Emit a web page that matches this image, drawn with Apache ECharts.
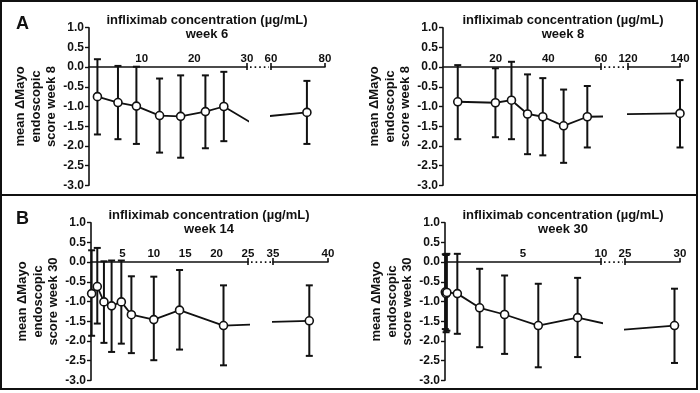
<!DOCTYPE html>
<html>
<head>
<meta charset="utf-8">
<script src="https://cdn.jsdelivr.net/npm/echarts@6/dist/echarts.min.js"></script>
<style>
html,body{margin:0;padding:0;background:#fff;}
#chart{width:700px;height:393px;}
</style>
</head>
<body>
<div id="chart"></div>
<script>
// ---- Data ----
const weekLabels = ['week 6', 'week 8', 'week 14', 'week 30'];
const yTitles = ['score week 8', 'score week 8', 'score week 30', 'score week 30'];
const panelLetters = ['A', '', 'B', ''];
const yTicks = [-3, 1, 0.5];

// axis segments [min, max, interval] before and after the break
const seg1 = [[0, 30, 10], [0, 60, 20], [0, 25, 5], [0, 10, 5]];
const seg2 = [[60, 80, 20], [120, 140, 20], [35, 40, 5], [25, 30, 5]];

// week 6
const w6X     = [1.6, 5.5, 9.0, 13.4, 17.4, 22.1, 25.6, 73.3];
const w6Mean  = [-0.75, -0.90, -0.99, -1.23, -1.25, -1.13, -1.00, -1.15];
const w6Upper = [0.20, 0.03, 0.01, -0.29, -0.21, -0.21, -0.12, -0.35];
const w6Lower = [-1.71, -1.83, -1.95, -2.17, -2.30, -2.06, -1.88, -1.95];
const w6Hidden = [31, -1.43];

// week 8
const w8X     = [5.6, 19.9, 26.0, 32.1, 37.9, 45.8, 54.8, 140];
const w8Mean  = [-0.88, -0.905, -0.84, -1.19, -1.26, -1.49, -1.26, -1.175];
const w8Upper = [0.05, -0.03, 0.135, -0.185, -0.28, -0.57, -0.48, -0.33];
const w8Lower = [-1.83, -1.78, -1.83, -2.21, -2.24, -2.43, -2.04, -2.04];
const w8Hidden = [90, -1.22];

// week 14
const w14X     = [0.1, 1.0, 2.06, 3.28, 4.83, 6.43, 10.0, 14.1, 21.1, 38.3];
const w14Mean  = [-0.80, -0.62, -1.01, -1.11, -1.01, -1.335, -1.46, -1.22, -1.61, -1.49];
const w14Upper = [0.30, 0.36, 0.02, 0.04, 0.04, -0.36, -0.37, -0.20, -0.59, -0.59];
const w14Lower = [-1.87, -1.56, -2.05, -2.28, -2.07, -2.31, -2.49, -2.22, -2.62, -2.38];
const w14Hidden = [30, -1.56];

// week 30
const w30X     = [0.02, 0.07, 0.12, 0.79, 2.22, 3.82, 5.98, 8.5, 29.5];
const w30Mean  = [-0.76, -0.80, -0.77, -0.80, -1.16, -1.33, -1.61, -1.41, -1.61];
const w30Upper = [0.20, 0.18, 0.21, 0.21, -0.17, -0.34, -0.55, -0.40, -0.675];
const w30Lower = [-1.70, -1.78, -1.74, -1.82, -2.16, -2.33, -2.67, -2.41, -2.56];
const w30Hidden = [14.6, -1.94];

const panelData = [
  {x: w6X, mean: w6Mean, upper: w6Upper, lower: w6Lower, hidden: w6Hidden},
  {x: w8X, mean: w8Mean, upper: w8Upper, lower: w8Lower, hidden: w8Hidden},
  {x: w14X, mean: w14Mean, upper: w14Upper, lower: w14Lower, hidden: w14Hidden},
  {x: w30X, mean: w30Mean, upper: w30Upper, lower: w30Lower, hidden: w30Hidden}
];

// ---- Layout (pixels) ----
const layout = [
  {top: 27.7, g1: [89, 247], g2: [271, 325], titleX: 207, titleY: 13},
  {top: 27.7, g1: [443, 601], g2: [628, 680], titleX: 563, titleY: 13},
  {top: 222.7, g1: [91, 248], g2: [273, 328], titleX: 209, titleY: 208},
  {top: 222.7, g1: [445, 601], g2: [625, 680], titleX: 563, titleY: 208}
];
const plotH = 157.6;
// distance from grid top to y = 0
const zeroOffset = plotH * (yTicks[1] - 0) / (yTicks[1] - yTicks[0]);
const FONT = '"Liberation Sans", Arial, sans-serif';
const INK = '#111';

const grids = [], xAxes = [], yAxes = [], series = [], titles = [];

function errRender(params, api) {
  const x = api.value(0), hi = api.value(1), lo = api.value(2);
  const t = api.coord([x, hi]), b = api.coord([x, lo]);
  const w = 3.5, st = {stroke: INK, lineWidth: 2};
  return {type: 'group', children: [
    {type: 'line', shape: {x1: t[0], y1: t[1], x2: b[0], y2: b[1]}, style: st},
    {type: 'line', shape: {x1: t[0] - w, y1: t[1], x2: t[0] + w, y2: t[1]}, style: st},
    {type: 'line', shape: {x1: b[0] - w, y1: b[1], x2: b[0] + w, y2: b[1]}, style: st}
  ]};
}

layout.forEach((L, p) => {
  const d = panelData[p];
  const segs = [seg1[p], seg2[p]];
  const gx = [L.g1, L.g2];
  const pts = d.x.map((x, i) => [x, d.mean[i]]);
  pts.push(d.hidden);
  pts.sort((a, b) => a[0] - b[0]);

  segs.forEach((s, k) => {
    const gi = p * 2 + k;
    grids.push({left: gx[k][0], top: L.top, width: gx[k][1] - gx[k][0], height: plotH});
    xAxes.push({
      type: 'value', gridIndex: gi, min: s[0], max: s[1], interval: s[2],
      position: 'top', offset: -zeroOffset,
      axisLine: {onZero: false, lineStyle: {color: INK, width: 1.6}},
      axisTick: {show: false},
      splitLine: {show: false},
      axisLabel: {
        color: INK, fontFamily: FONT, fontWeight: 'bold', fontSize: 11.5, margin: 2,
        formatter: v => (v === 0 ? '' : String(v))
      }
    });
    yAxes.push({
      type: 'value', gridIndex: gi, min: yTicks[0], max: yTicks[1], interval: yTicks[2],
      show: k === 0,
      name: k === 0 ? 'mean \u0394Mayo\nendoscopic\n' + yTitles[p] : '',
      nameLocation: 'middle', nameRotate: 90, nameGap: 28,
      nameTextStyle: {color: INK, fontFamily: FONT, fontWeight: 'bold', fontSize: 13, lineHeight: 15.5},
      axisLine: {onZero: false, lineStyle: {color: INK, width: 1.6}},
      axisTick: {show: true, length: 4, lineStyle: {color: INK, width: 1.4}},
      splitLine: {show: false},
      axisLabel: {color: INK, fontFamily: FONT, fontWeight: 'bold', fontSize: 12, margin: 5,
        formatter: v => v.toFixed(1)}
    });
    const inR = x => x >= s[0] && x <= s[1];
    series.push({
      type: 'custom', xAxisIndex: gi, yAxisIndex: gi, z: 2,
      renderItem: errRender,
      encode: {x: 0, y: [1, 2]},
      data: d.x.map((x, i) => [x, d.upper[i], d.lower[i]]).filter(r => inR(r[0]))
    });
    series.push({
      type: 'line', xAxisIndex: gi, yAxisIndex: gi, z: 3, clip: true,
      symbol: 'circle', symbolSize: 8, showAllSymbol: true,
      lineStyle: {color: INK, width: 1.8},
      itemStyle: {color: '#fff', borderColor: INK, borderWidth: 1.6},
      emphasis: {disabled: true},
      animation: false,
      data: pts.map(pt => ({value: pt, symbol: (inR(pt[0]) && pt !== d.hidden) ? 'circle' : 'none'}))
    });
  });

  titles.push({
    text: 'infliximab concentration (\u00b5g/mL)\n' + weekLabels[p],
    left: L.titleX, top: L.titleY, textAlign: 'center', padding: 0,
    textStyle: {color: INK, fontFamily: FONT, fontWeight: 'bold', fontSize: 13, lineHeight: 14.5}
  });
  if (panelLetters[p]) {
    titles.push({
      text: panelLetters[p], left: 16, top: L.top - 13, padding: 0,
      textStyle: {color: INK, fontFamily: FONT, fontWeight: 'bold', fontSize: 18}
    });
  }
});

const chart = echarts.init(document.getElementById('chart'), null, {renderer: 'canvas'});
chart.setOption({
  animation: false,
  backgroundColor: '#fff',
  title: titles,
  grid: grids,
  xAxis: xAxes,
  yAxis: yAxes,
  series: series
});

// frame, axis-break dots and break ticks
const els = [
  {type: 'rect', shape: {x: 1, y: 1, width: 696, height: 388}, style: {fill: 'none', stroke: INK, lineWidth: 2}, z: 10},
  {type: 'line', shape: {x1: 1, y1: 195, x2: 697, y2: 195}, style: {stroke: INK, lineWidth: 2}, z: 10}
];
layout.forEach((L, p) => {
  const a1 = p * 2, a2 = p * 2 + 1;
  const p1 = chart.convertToPixel({xAxisIndex: a1, yAxisIndex: a1}, [seg1[p][1], 0]);
  const p2 = chart.convertToPixel({xAxisIndex: a2, yAxisIndex: a2}, [seg2[p][0], 0]);
  const p3 = chart.convertToPixel({xAxisIndex: a2, yAxisIndex: a2}, [seg2[p][1], 0]);
  const st = {stroke: INK, lineWidth: 1.6};
  els.push({type: 'line', shape: {x1: p1[0] + 3, y1: p1[1], x2: p2[0] - 2, y2: p2[1]},
    style: {stroke: INK, lineWidth: 1.6, lineDash: [1.6, 3]}, z: 10});
  els.push({type: 'line', shape: {x1: p1[0], y1: p1[1] - 4, x2: p1[0], y2: p1[1] + 3}, style: st, z: 10});
  els.push({type: 'line', shape: {x1: p2[0], y1: p2[1] - 4, x2: p2[0], y2: p2[1] + 3}, style: st, z: 10});
  els.push({type: 'line', shape: {x1: p3[0], y1: p3[1] - 4, x2: p3[0], y2: p3[1]}, style: st, z: 10});
});
chart.setOption({graphic: {elements: els}});
</script>
</body>
</html>
